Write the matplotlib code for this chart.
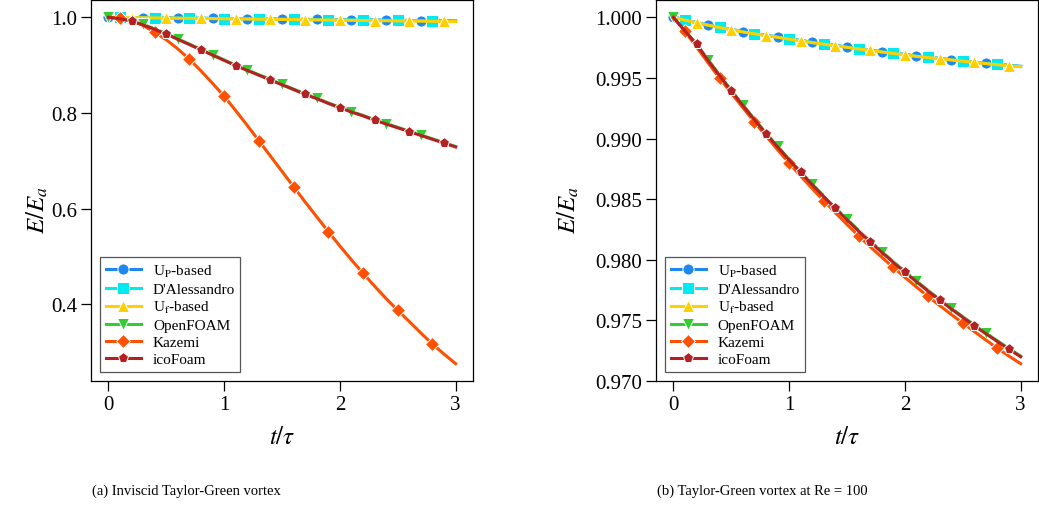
import numpy as np
import matplotlib
matplotlib.use("Agg")
import matplotlib.pyplot as plt

plt.rcParams['font.family'] = ['Liberation Serif', 'DejaVu Serif']
plt.rcParams['mathtext.fontset'] = 'stix'

t = [0.0, 0.1, 0.2, 0.3, 0.4, 0.5, 0.6, 0.7, 0.8, 0.9, 1.0,
     1.1, 1.2, 1.3, 1.4, 1.5, 1.6, 1.7, 1.8, 1.9, 2.0,
     2.1, 2.2, 2.3, 2.4, 2.5, 2.6, 2.7, 2.8, 2.9, 3.0]

labels = [r'U$_{\rm P}$-based', "D'Alessandro", r'U$_{\rm f}$-based',
          'OpenFOAM', 'Kazemi', 'icoFoam']

# (a) inviscid case
up_a = [1.0000, 0.9998, 0.9995, 0.9993, 0.9990, 0.9988, 0.9985, 0.9983, 0.9980, 0.9978, 0.9975,
        0.9973, 0.9970, 0.9968, 0.9965, 0.9963, 0.9960, 0.9958, 0.9955, 0.9953, 0.9950,
        0.9948, 0.9945, 0.9943, 0.9940, 0.9938, 0.9935, 0.9933, 0.9930, 0.9928, 0.9925]
dal_a = [1.0000, 0.9997, 0.9995, 0.9992, 0.9990, 0.9987, 0.9985, 0.9982, 0.9979, 0.9977, 0.9974,
         0.9972, 0.9969, 0.9966, 0.9964, 0.9961, 0.9959, 0.9956, 0.9953, 0.9951, 0.9948,
         0.9946, 0.9943, 0.9940, 0.9938, 0.9935, 0.9933, 0.9930, 0.9927, 0.9925, 0.9922]
uf_a = [1.0000, 0.9997, 0.9994, 0.9991, 0.9988, 0.9985, 0.9982, 0.9979, 0.9976, 0.9973, 0.9970,
        0.9967, 0.9964, 0.9961, 0.9958, 0.9955, 0.9952, 0.9949, 0.9946, 0.9943, 0.9940,
        0.9937, 0.9934, 0.9931, 0.9928, 0.9925, 0.9922, 0.9919, 0.9916, 0.9913, 0.9910]
of_a = [1.000, 0.997, 0.992, 0.985, 0.976, 0.966, 0.955, 0.944, 0.933, 0.922, 0.911,
        0.900, 0.890, 0.880, 0.870, 0.860, 0.850, 0.840, 0.831, 0.821, 0.812,
        0.803, 0.795, 0.786, 0.778, 0.770, 0.762, 0.754, 0.746, 0.738, 0.730]
kaz_a = [1.000, 0.999, 0.994, 0.983, 0.969, 0.953, 0.934, 0.9125, 0.888, 0.862, 0.835,
         0.805, 0.774, 0.742, 0.710, 0.678, 0.646, 0.614, 0.583, 0.552, 0.522,
         0.493, 0.465, 0.438, 0.412, 0.3875, 0.364, 0.340, 0.317, 0.296, 0.276]
ico_a = [1.000, 0.997, 0.992, 0.984, 0.975, 0.965, 0.954, 0.943, 0.932, 0.921, 0.910,
         0.899, 0.889, 0.879, 0.869, 0.859, 0.849, 0.839, 0.830, 0.820, 0.811,
         0.802, 0.794, 0.785, 0.777, 0.769, 0.761, 0.753, 0.745, 0.737, 0.729]

# (b) Re = 100
up_b = [1.00000, 0.99978, 0.99957, 0.99937, 0.99918, 0.99900, 0.99882, 0.99867, 0.99852, 0.99838, 0.99823,
        0.99809, 0.99794, 0.99781, 0.99768, 0.99755, 0.99742, 0.99730, 0.99717, 0.99705, 0.99693,
        0.99681, 0.99671, 0.99661, 0.99651, 0.99641, 0.99631, 0.99621, 0.99613, 0.99604, 0.99596]
dal_b = [1.00000, 0.99978, 0.99956, 0.99936, 0.99918, 0.99899, 0.99881, 0.99866, 0.99851, 0.99837, 0.99822,
         0.99808, 0.99793, 0.99780, 0.99767, 0.99754, 0.99741, 0.99729, 0.99716, 0.99704, 0.99692,
         0.99680, 0.99670, 0.99660, 0.99650, 0.99640, 0.99630, 0.99620, 0.99611, 0.99602, 0.99594]
uf_b = [1.00000, 0.99977, 0.99955, 0.99935, 0.99916, 0.99897, 0.99879, 0.99864, 0.99849, 0.99835, 0.99820,
        0.99806, 0.99791, 0.99778, 0.99765, 0.99752, 0.99739, 0.99727, 0.99714, 0.99702, 0.99690,
        0.99678, 0.99668, 0.99658, 0.99648, 0.99638, 0.99628, 0.99618, 0.99609, 0.99600, 0.99592]
of_b = [1.00000, 0.99890, 0.99780, 0.99650, 0.99523, 0.99398, 0.99278, 0.99160, 0.99046, 0.98936, 0.98829,
        0.98725, 0.98624, 0.98525, 0.98428, 0.98335, 0.98243, 0.98154, 0.98068, 0.97985, 0.97904,
        0.97825, 0.97748, 0.97674, 0.97601, 0.97531, 0.97462, 0.97396, 0.97331, 0.97267, 0.97206]
kaz_b = [1.00000, 0.99885, 0.99755, 0.99625, 0.99497, 0.99375, 0.99255, 0.99137, 0.99022, 0.98908, 0.98797,
         0.98691, 0.98587, 0.98486, 0.98388, 0.98291, 0.98197, 0.98108, 0.98021, 0.97937, 0.97855,
         0.97775, 0.97698, 0.97623, 0.97549, 0.97478, 0.97408, 0.97338, 0.97269, 0.97205, 0.97143]
ico_b = [1.00000, 0.99888, 0.99777, 0.99645, 0.99518, 0.99393, 0.99273, 0.99155, 0.99041, 0.98931, 0.98824,
         0.98720, 0.98619, 0.98520, 0.98423, 0.98329, 0.98237, 0.98148, 0.98062, 0.97979, 0.97898,
         0.97819, 0.97742, 0.97668, 0.97595, 0.97525, 0.97456, 0.97390, 0.97325, 0.97261, 0.97200]

colors = ['#1e88f0', '#00eaf2', '#ffd000', '#33cc33', '#ff4f00', '#b22222']
markers = ['o', 's', '^', 'v', 'D', 'p']
msizes = [8, 8, 8, 8, 7.5, 8]
offsets = [0, 1, 2, 0, 1, 2]

fig = plt.figure(figsize=(10.39, 5.06), dpi=100)
ax1 = fig.add_axes([91/1039, 124/506, 382/1039, 381/506])
ax2 = fig.add_axes([656/1039, 124/506, 382/1039, 381/506])


def draw(ax, series, ylab_x):
    for y, lab, c, m, ms, off in zip(series, labels, colors, markers, msizes, offsets):
        ax.plot(t, y, color=c, lw=2.2, marker=m, ms=ms, mec='white', mew=0.7,
                markevery=slice(off, 30, 3), label=lab)
    ax.set_xlabel(r'$t/\tau$', fontsize=18, labelpad=9)
    ax.set_ylabel(r'$E/E_a$', fontsize=18)
    ax.yaxis.set_label_coords(ylab_x, 0.45)
    ax.set_xticks([0, 1, 2, 3])
    ax.tick_params(direction='out', length=7, width=0.9, labelsize=15, pad=3,
                   top=False, right=False)
    for s in ax.spines.values():
        s.set_linewidth(0.9)
    leg = ax.legend(loc='lower left', fontsize=11, frameon=True, fancybox=False,
                    framealpha=1, edgecolor='#555555', handlelength=2.3,
                    borderaxespad=0.6, labelspacing=0.22, borderpad=0.35,
                    handletextpad=0.8)
    leg.get_frame().set_linewidth(0.9)


draw(ax1, [up_a, dal_a, uf_a, of_a, kaz_a, ico_a], -0.107)
draw(ax2, [up_b, dal_b, uf_b, of_b, kaz_b, ico_b], -0.196)
ax1.set_yticks([0.4, 0.6, 0.8, 1.0])
ax2.set_yticks([0.970, 0.975, 0.980, 0.985, 0.990, 0.995, 1.000])
ax2.yaxis.set_major_formatter(matplotlib.ticker.FormatStrFormatter('%.3f'))

fig.text(186/1039, 1 - 491/506, '(a) Inviscid Taylor-Green vortex',
         ha='center', va='center', fontsize=10.5)
fig.text(762/1039, 1 - 491/506, '(b) Taylor-Green vortex at Re = 100',
         ha='center', va='center', fontsize=10.5)

fig.savefig('out.png', dpi=100)
